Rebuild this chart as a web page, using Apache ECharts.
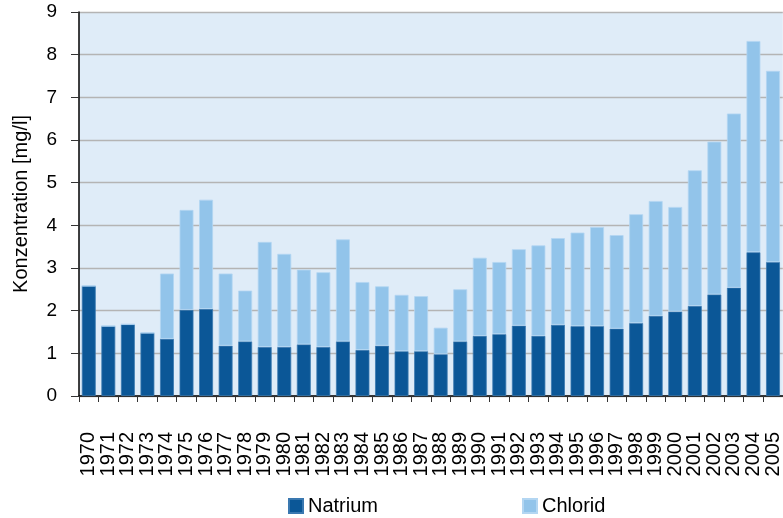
<!DOCTYPE html>
<html>
<head>
<meta charset="utf-8">
<script src="https://cdn.jsdelivr.net/npm/echarts@6/dist/echarts.min.js"></script>
<style>
  html, body { margin: 0; padding: 0; background: #fff; }
  #main { width: 783px; height: 518px; }
</style>
</head>
<body>
<div id="main"></div>
<script>
// Jahre
let years = ['1970','1971','1972','1973','1974','1975','1976','1977','1978','1979',
  '1980','1981','1982','1983','1984','1985','1986','1987','1988','1989',
  '1990','1991','1992','1993','1994','1995','1996','1997','1998','1999',
  '2000','2001','2002','2003','2004','2005'];

// Natrium [mg/l]
let natrium = [2.58, 1.64, 1.68, 1.48, 1.34, 2.02, 2.04, 1.18, 1.28, 1.15,
  1.15, 1.21, 1.15, 1.28, 1.08, 1.18, 1.05, 1.05, 0.98, 1.28,
  1.41, 1.45, 1.65, 1.41, 1.67, 1.64, 1.64, 1.58, 1.71, 1.88,
  1.98, 2.11, 2.38, 2.54, 3.37, 3.14];

// Chlorid [mg/l] (gestapelt auf Natrium)
let chlorid = [0, 0, 0, 0, 1.53, 2.34, 2.56, 1.69, 1.19, 2.46,
  2.18, 1.75, 1.75, 2.39, 1.59, 1.39, 1.32, 1.29, 0.62, 1.22,
  1.83, 1.69, 1.79, 2.12, 2.03, 2.19, 2.32, 2.19, 2.55, 2.69,
  2.45, 3.18, 3.58, 4.08, 4.95, 4.48];

let yTicks = [0, 1, 2, 3, 4, 5, 6, 7, 8, 9];

let font = 'Liberation Sans, Arial, sans-serif';

let chart = echarts.init(document.getElementById('main'));
chart.setOption({
  animation: false,
  textStyle: { fontFamily: font },
  grid: {
    left: 79, right: 0, top: 12, bottom: 122,
    show: true, backgroundColor: '#dfecf8', borderWidth: 0
  },
  legend: [
    {
      data: ['Natrium'], left: 283, top: 491,
      icon: 'rect', itemWidth: 14, itemHeight: 14, itemGap: 5,
      textStyle: { fontSize: 20, color: '#000', fontFamily: font }
    },
    {
      data: ['Chlorid'], left: 517, top: 491,
      icon: 'rect', itemWidth: 14, itemHeight: 14, itemGap: 5,
      textStyle: { fontSize: 20, color: '#000', fontFamily: font }
    }
  ],
  xAxis: {
    type: 'category',
    data: years,
    axisLine: { lineStyle: { color: '#000', width: 1.5 } },
    axisTick: { show: true, length: 6, lineStyle: { color: '#333' } },
    axisLabel: {
      interval: 0, rotate: 90, margin: 36,
      fontSize: 20, color: '#000', fontFamily: font
    }
  },
  yAxis: {
    type: 'value',
    min: yTicks[0], max: yTicks[yTicks.length - 1], interval: 1,
    name: 'Konzentration [mg/l]',
    nameLocation: 'middle', nameGap: 48,
    nameTextStyle: { fontSize: 20, color: '#000', fontFamily: font },
    axisLine: { show: true, lineStyle: { color: '#000', width: 1.5 } },
    axisTick: { show: true, length: 8, lineStyle: { color: '#333' } },
    axisLabel: { fontSize: 19, color: '#000', margin: 22, fontFamily: font },
    splitLine: { lineStyle: { color: '#b4b4b4', width: 1.3 } }
  },
  series: [
    {
      name: 'Natrium', type: 'bar', stack: 'k',
      data: natrium, barWidth: '71%',
      itemStyle: { color: '#0b5797', borderColor: '#3a78b0', borderWidth: 0.8 }
    },
    {
      name: 'Chlorid', type: 'bar', stack: 'k',
      data: chlorid, barWidth: '71%',
      itemStyle: { color: '#92c4ea', borderColor: '#b3d6f2', borderWidth: 0.8 }
    }
  ]
});
</script>
</body>
</html>
